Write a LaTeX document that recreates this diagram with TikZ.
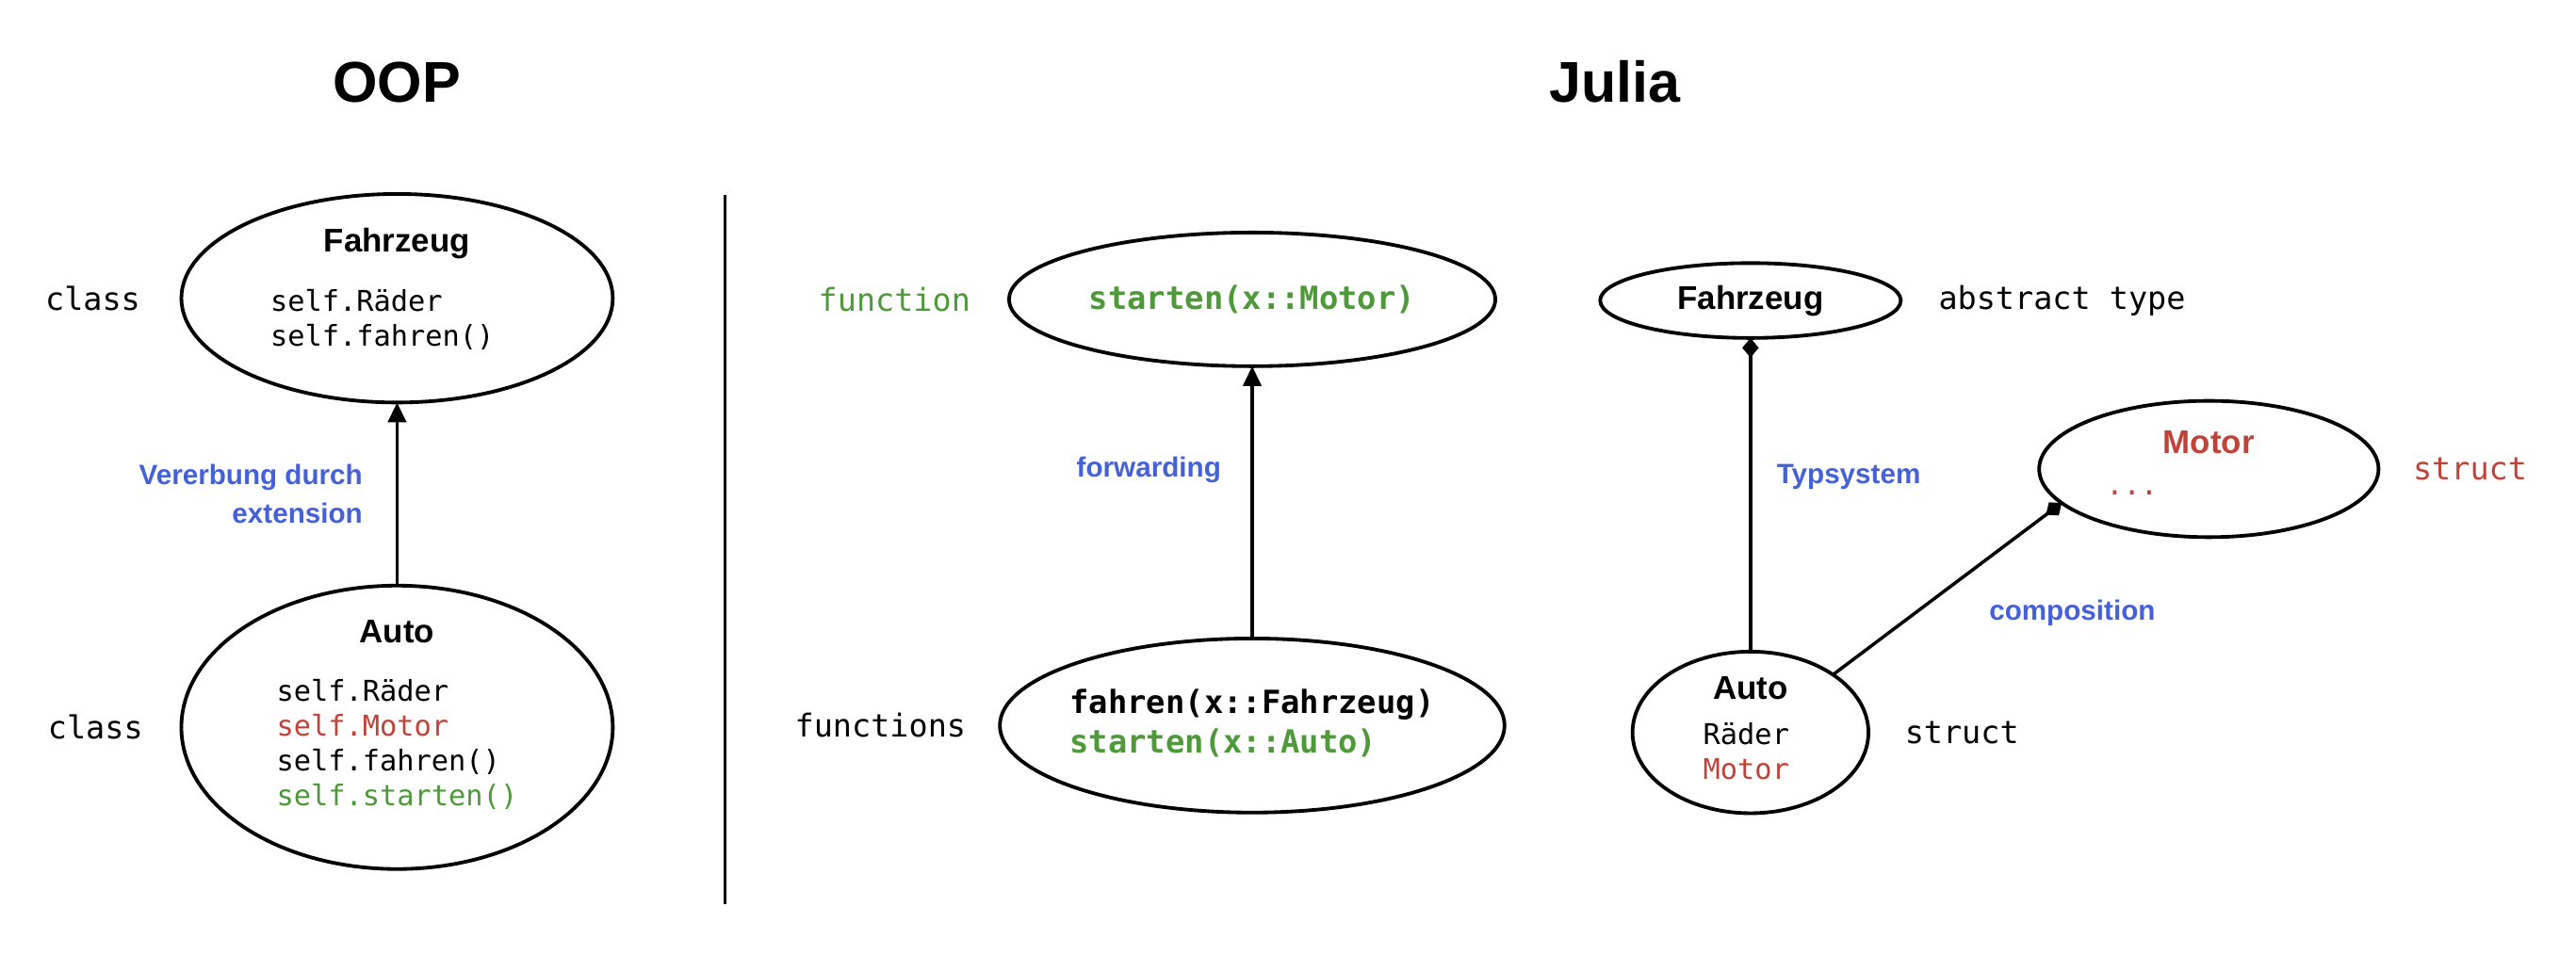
\documentclass[tikz,border=0pt]{standalone}
\usepackage{fontspec}
\setmainfont{Liberation Sans}
\setmonofont{DejaVu Sans Mono}
\usepackage{xcolor}
\usetikzlibrary{shapes.geometric, arrows.meta, positioning}

\definecolor{relblue}{HTML}{4561D9}
\definecolor{motorred}{HTML}{C0433A}
\definecolor{fungreen}{HTML}{4E9A3A}

\newcommand{\typename}[1]{\multicolumn{1}{c}{\rmfamily\bfseries\fontsize{20}{24}\selectfont #1}}

\begin{document}
\begin{tikzpicture}[x=1pt, y=-1pt, outer sep=0pt,
    title/.style={font=\bfseries\fontsize{35}{40}\selectfont, anchor=base, inner sep=0pt},
    oval/.style={ellipse, draw, line width=2.2pt, inner sep=-8pt},
    codetext/.style={font=\ttfamily\fontsize{17.4}{21.2}\selectfont},
    sidenote/.style={font=\ttfamily\fontsize{19.2}{23}\selectfont, inner sep=0pt},
    relation/.style={font=\bfseries\fontsize{17}{23.7}\selectfont, text=relblue, inner sep=0pt},
    inherit/.style={line width=2pt, -{Triangle[length=12pt,width=11pt]}},
    typeof/.style={line width=2pt, -{Diamond[length=12pt,width=10pt]}}]

    \useasboundingbox (0,0) rectangle (1568,581.5);

    \node[title] (ooptitle) at (241.4,62.2) {OOP};
    \node[title] (juliatitle) at (983,62.2) {Julia};

    \coordinate (divtop) at (441.4,118.9);
    \coordinate (divbot) at (441.4,550.4);
    \draw[line width=2pt] (divtop) -- (divbot);

    % OOP
    \node[oval, codetext, minimum width=262.6pt, minimum height=127pt] (ofahrzeug) at (241.7,181.6)
        {\begin{tabular}{@{}l@{\hspace{18pt}}}\typename{Fahrzeug}\\[14.6pt] self.Räder\\ self.fahren()\\[7.4pt]\end{tabular}};
    \node[oval, codetext, minimum width=262.6pt, minimum height=172.6pt] (oauto) at (241.7,442.9)
        {\begin{tabular}{@{}l@{}}\typename{Auto}\\[14.6pt] self.Räder\\ \textcolor{motorred}{self.Motor}\\ self.fahren()\\ \textcolor{fungreen}{self.starten()}\\[12.2pt]\end{tabular}};
    \node[sidenote, left=25pt of ofahrzeug] (oclassa) {class};
    \node[sidenote, left=23.4pt of oauto] (oclassb) {class};

    \draw[inherit] (oauto) -- node[relation, left=21pt, align=right] (vererbung) {Vererbung durch\\extension} (ofahrzeug);

    % Julia, functions
    \node[oval, minimum width=296pt, minimum height=81.4pt, font=\ttfamily\bfseries\fontsize{19.4}{23.8}\selectfont, text=fungreen] (mstarten) at (762.2,182.3) {starten(x::Motor)};
    \node[oval, minimum width=307.2pt, minimum height=106pt, font=\ttfamily\bfseries\fontsize{19.4}{23.8}\selectfont] (mfahren) at (762.2,441.8)
        {\begin{tabular}{@{}l@{}}fahren(x::Fahrzeug)\\ \textcolor{fungreen}{starten(x::Auto)}\end{tabular}};
    \node[sidenote, text=fungreen, left=23.5pt of mstarten] (mfunction) {function};
    \node[sidenote, left=20.7pt of mfahren] (mfunctions) {functions};

    \draw[inherit] (mfahren) -- node[relation, pos=0.62, left=19pt] (forwarding) {forwarding} (mstarten);

    % Julia, types
    \node[oval, minimum width=183pt, minimum height=45.6pt, font=\bfseries\fontsize{20}{24}\selectfont] (jfahrzeug) at (1065.5,183) {Fahrzeug};
    \node[oval, codetext, minimum width=143.6pt, minimum height=98.4pt] (jauto) at (1065.5,446)
        {\begin{tabular}{@{}l@{}}\typename{Auto}\\[6.7pt] Räder\\ \textcolor{motorred}{Motor}\end{tabular}};
    \node[oval, codetext, minimum width=206.6pt, minimum height=83pt] (jmotor) at (1344.5,285.6)
        {\begin{tabular}{@{}l@{}}\typename{\textcolor{motorred}{Motor}}\\[3.7pt] \makebox[125pt][l]{\textcolor{motorred}{...}}\\[2pt]\end{tabular}};
    \node[sidenote, right=23pt of jfahrzeug] (jabstract) {abstract type};
    \node[sidenote, right=22.2pt of jauto] (jstructa) {struct};
    \node[sidenote, text=motorred, right=21pt of jmotor] (jstructb) {struct};

    \draw[typeof] (jauto) -- node[relation, pos=0.557, right=16pt] (typsystem) {Typsystem} (jfahrzeug);
    \draw[typeof] (jauto.35) -- node[relation, pos=0.36, right=45pt] (composition) {composition} (jmotor.193);
\end{tikzpicture}
\end{document}
